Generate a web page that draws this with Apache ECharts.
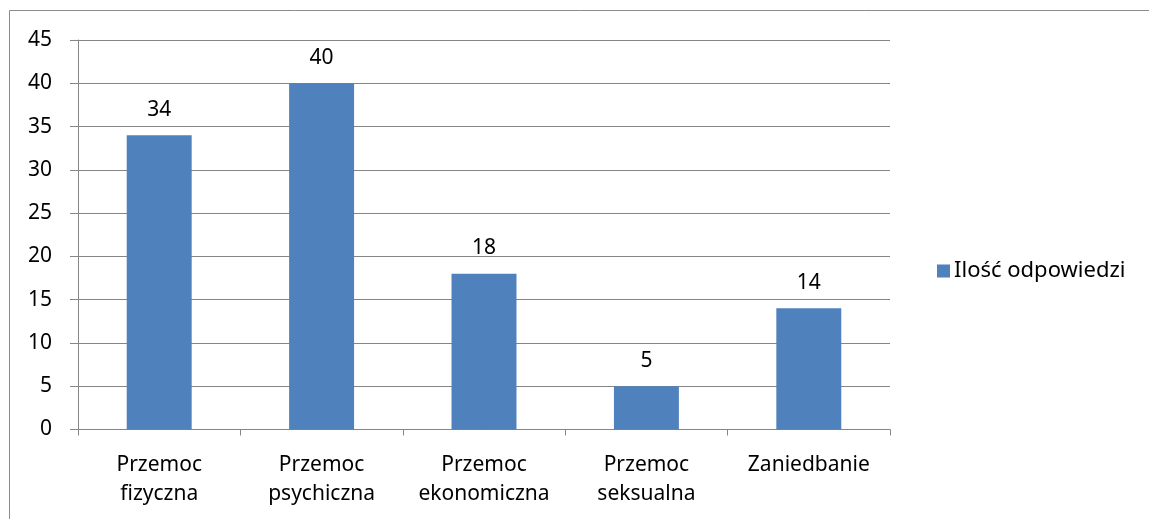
<!DOCTYPE html>
<html><head><meta charset="utf-8">
<script src="https://cdn.jsdelivr.net/npm/echarts@6/dist/echarts.min.js"></script>
<style>html,body{margin:0;padding:0;background:#fff}#c{width:1149px;height:519px}</style>
</head><body><div id="c"></div>
<script>
const categories = ['Przemoc\nfizyczna', 'Przemoc\npsychiczna', 'Przemoc\nekonomiczna', 'Przemoc\nseksualna', 'Zaniedbanie'];
const values = [34, 40, 18, 5, 14];
const seriesName = 'Ilość odpowiedzi';
const yTicks = [0, 5, 10, 15, 20, 25, 30, 35, 40, 45];

const font = 'Noto Sans';
const chart = echarts.init(document.getElementById('c'), null, {renderer: 'canvas'});
chart.setOption({
  animation: false,
  backgroundColor: '#fff',
  textStyle: {fontFamily: font},
  graphic: [{type: 'rect', shape: {x: 9.5, y: 10.5, width: 1200, height: 600}, style: {fill: 'none', stroke: '#8c8c8c', lineWidth: 1}, silent: true}],
  grid: {left: 78, right: 259, top: 40, bottom: 89.5, containLabel: false},
  legend: {
    data: [seriesName], left: 932, top: 255, orient: 'vertical',
    icon: 'rect', itemWidth: 13, itemHeight: 13, itemGap: 8,
    textStyle: {fontFamily: font, fontSize: 22, color: '#000', padding: [0, 0, 0, -1]}
  },
  xAxis: {
    type: 'category', data: categories,
    axisLine: {lineStyle: {color: '#868686', width: 1}},
    axisTick: {show: true, length: 6, alignWithLabel: false, lineStyle: {color: '#868686'}},
    axisLabel: {color: '#000', fontSize: 21, fontFamily: font, lineHeight: 29, margin: 21, interval: 0}
  },
  yAxis: {
    type: 'value', min: 0, max: 45, interval: 5,
    axisLine: {show: true, lineStyle: {color: '#868686', width: 1}},
    axisTick: {show: true, length: 8, lineStyle: {color: '#868686'}},
    splitLine: {lineStyle: {color: '#868686', width: 1}},
    axisLabel: {color: '#000', fontSize: 21, fontFamily: font, margin: 26,
      formatter: v => yTicks.includes(v) ? String(v) : ''}
  },
  series: [{
    name: seriesName, type: 'bar', data: values, barWidth: '40%',
    itemStyle: {color: '#4f81bd'},
    label: {show: true, position: 'top', distance: 15, color: '#000', fontSize: 21, fontFamily: font}
  }]
});
</script></body></html>
